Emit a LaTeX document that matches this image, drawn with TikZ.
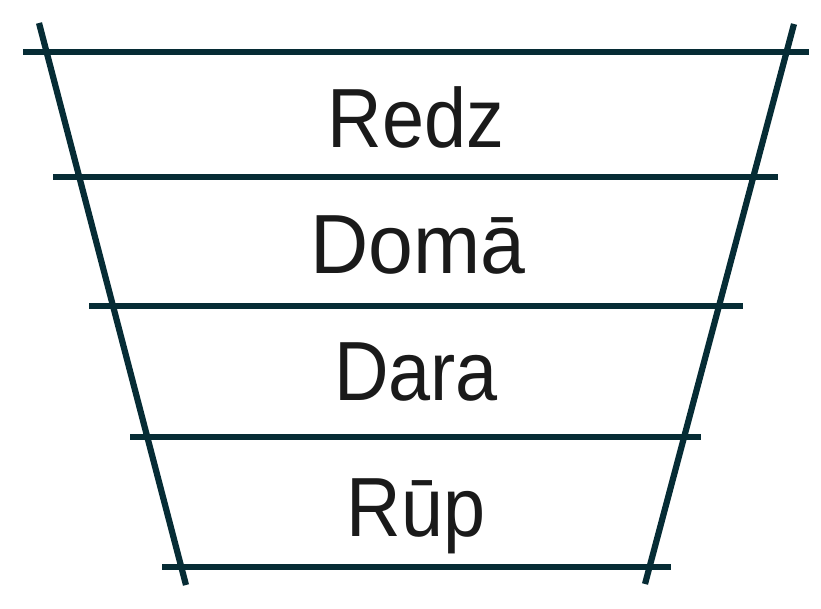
\documentclass[tikz,border=0pt]{standalone}
\usepackage{fontspec}
\setmainfont{Liberation Sans}
\definecolor{lineteal}{HTML}{062C35}
\definecolor{txt}{HTML}{1A1A1A}
\begin{document}
\begin{tikzpicture}[x=1pt,y=-1pt,
  bar/.style={draw=lineteal,line width=6.2pt},
  lbl/.style={anchor=base,inner sep=0pt,text=txt,font=\fontsize{84}{84}\selectfont}]
\useasboundingbox (0,0) rectangle (821,608);
% side lines
\coordinate (lt) at (39,23);
\coordinate (lb) at (186,585);
\coordinate (rt) at (794,24);
\coordinate (rb) at (645,584);
\draw[bar] (lt) -- (lb);
\draw[bar] (rt) -- (rb);
% horizontal bars
\coordinate (h1a) at (23,52);  \coordinate (h1b) at (809,52);
\coordinate (h2a) at (53,177); \coordinate (h2b) at (778,177);
\coordinate (h3a) at (89,306); \coordinate (h3b) at (743,306);
\coordinate (h4a) at (130,437); \coordinate (h4b) at (701,437);
\coordinate (h5a) at (162,567); \coordinate (h5b) at (671,567);
\draw[bar] (h1a) -- (h1b);
\draw[bar] (h2a) -- (h2b);
\draw[bar] (h3a) -- (h3b);
\draw[bar] (h4a) -- (h4b);
\draw[bar] (h5a) -- (h5b);
% labels
\node[lbl] (redz) at (416,147) {\scalebox{0.9}[1]{Redz}};
\node[lbl] (doma) at (418,273) {\scalebox{0.96}[1]{Domā}};
\node[lbl] (dara) at (416,400) {\scalebox{0.9}[1]{Dara}};
\node[lbl] (rup) at (416,536) {\scalebox{0.9}[1]{Rūp}};
\end{tikzpicture}
\end{document}
